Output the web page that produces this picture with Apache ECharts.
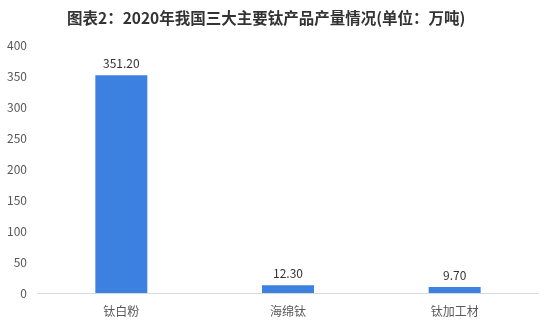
<!DOCTYPE html>
<html><head><meta charset="utf-8">
<script src="https://cdn.jsdelivr.net/npm/echarts@6/dist/echarts.min.js"></script>
<style>html,body{margin:0;padding:0;background:#fff}#c{width:554px;height:332px}</style>
</head><body><div id="c"></div>
<script>
const titleText = '图表2：2020年我国三大主要钛产品产量情况(单位：万吨)';
const categories = ['钛白粉', '海绵钛', '钛加工材'];
const values = [351.20, 12.30, 9.70];
const yTicks = [0, 50, 100, 150, 200, 250, 300, 350, 400];

const font = '"Microsoft YaHei","Noto Sans CJK SC",sans-serif';
const chart = echarts.init(document.getElementById('c'));
chart.setOption({
  animation: false,
  title: {
    text: titleText, left: 62, top: 5,
    textStyle: { fontSize: 15.5, fontWeight: 'bold', color: '#333', fontFamily: font }
  },
  grid: { left: 38, right: 16, top: 45, bottom: 39 },
  xAxis: {
    type: 'category', data: categories,
    axisLine: { lineStyle: { color: '#d9d9d9' } },
    axisTick: { show: false },
    axisLabel: { color: '#595959', fontSize: 12, margin: 12, fontFamily: font }
  },
  yAxis: {
    type: 'value', min: yTicks[0], max: yTicks[yTicks.length - 1], interval: 50,
    splitLine: { show: false },
    axisLine: { show: false }, axisTick: { show: false },
    axisLabel: { color: '#595959', fontSize: 12, margin: 11, fontFamily: font }
  },
  series: [{
    type: 'bar', data: values, barWidth: 52,
    itemStyle: { color: '#3c80e0' },
    label: {
      show: true, position: 'top', distance: 6, color: '#333', fontSize: 12,
      fontFamily: font, formatter: p => p.value.toFixed(2)
    }
  }]
});
</script></body></html>
